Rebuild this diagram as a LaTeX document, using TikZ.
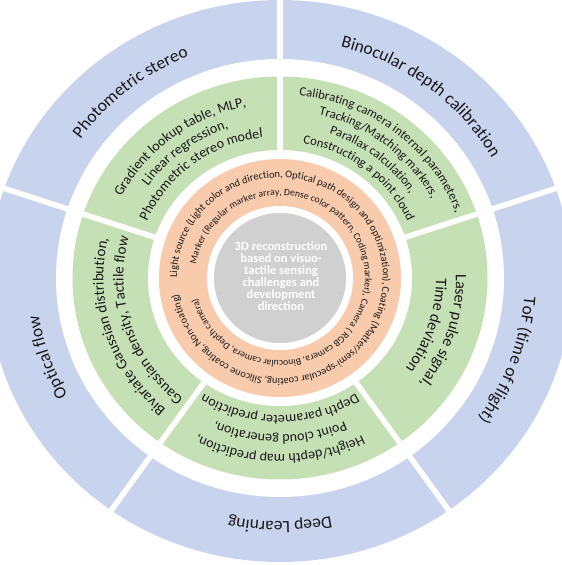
\documentclass[tikz,border=0pt]{standalone}
\usepackage{fontspec}
\setmainfont{Carlito}
\usetikzlibrary{decorations.text}
\definecolor{ringblue}{RGB}{200,212,238}
\definecolor{ringgreen}{RGB}{197,224,180}
\definecolor{ringorange}{RGB}{248,203,173}
\definecolor{ringgray}{RGB}{208,208,208}
\definecolor{txtc}{RGB}{25,25,25}
% radius of baseline, centre angle, half span, font size, text
\newcommand{\arctxt}[5]{%
  \pgfmathsetmacro{\atrx}{#1}\pgfmathsetmacro{\atry}{0.975*#1}%
  \pgfmathsetmacro{\atsa}{#2+#3}\pgfmathsetmacro{\atea}{#2-#3}%
  \path[decorate,decoration={text along path,text align=center,text color=txtc,
      text={|\fontsize{#4pt}{#4pt}\selectfont|#5}}]
    (\atsa:\atrx pt and \atry pt) arc[start angle=\atsa,end angle=\atea,x radius=\atrx pt,y radius=\atry pt];}
\begin{document}
\begin{tikzpicture}[x=1pt,y=1pt]
\useasboundingbox (-280pt,-287pt) rectangle (282pt,278pt);
\clip (-280pt,-287pt) rectangle (282pt,278pt);
% rings
\fill[ringblue] (0pt,-3pt) ellipse [x radius=292pt, y radius=281pt];
\fill[white] (0,0) ellipse [x radius=224pt, y radius=219pt];
\fill[ringgreen] (0,0) ellipse [x radius=207.5pt, y radius=201.5pt];
\fill[white] (0,0) ellipse [x radius=132pt, y radius=128pt];
\fill[ringorange] (0,0) ellipse [x radius=121pt, y radius=119pt];
\fill[white] (0,0) ellipse [x radius=73pt, y radius=72pt];
\fill[ringgray] (0,0) ellipse [x radius=66pt, y radius=65pt];
% radial gaps
\foreach \a in {18,90,162,234,306}
  \draw[white, line width=5.5pt] (\a:125pt) -- (\a:310pt);
% outer ring labels
\arctxt{245}{128.5}{50}{17.5}{Photometric stereo}
\arctxt{245}{52.5}{60}{17.5}{Binocular depth calibration}
\arctxt{245}{-20}{50}{17.5}{ToF (time of flight)}
\arctxt{250}{-90}{50}{17.5}{Deep Learning}
\arctxt{244}{199}{50}{17.5}{Optical flow}
% green ring: photometric
\arctxt{179}{127}{70}{14}{Gradient lookup table,  MLP,}
\arctxt{162}{127}{70}{14}{Linear regression,}
\arctxt{145}{127}{70}{14}{Photometric stereo model}
% green ring: binocular
\arctxt{188}{52}{75}{12.7}{Calibrating camera internal parameters,}
\arctxt{172}{52}{75}{12.7}{Tracking/Matching markers,}
\arctxt{156}{52}{75}{12.7}{Parallax calculation,}
\arctxt{140}{52}{75}{12.7}{Constructing a point cloud}
% green ring: ToF
\arctxt{176}{-18}{60}{16}{Laser pulse signal,}
\arctxt{156}{-18}{60}{16}{Time deviation}
% green ring: deep learning
\arctxt{181}{-90}{70}{14}{Height/depth map prediction,}
\arctxt{161}{-90}{70}{14}{Point cloud generation,}
\arctxt{141}{-90}{70}{14}{Depth parameter prediction}
% green ring: optical flow
\arctxt{176.5}{198}{70}{15}{Bivariate Gaussian distribution,}
\arctxt{156.5}{198}{70}{15}{Gaussian density, Tactile flow}
% orange ring
\arctxt{103}{4.5}{179.5}{10.4}{Light source (Light color and direction, Optical path design and optimization), Coating (Matter/semi-specular coating, Silicone coating, Non-coating)}
\arctxt{85}{2.3}{179.5}{9.7}{Marker (Regular marker array, Dense color pattern, Coding marker), Camera ( RGB camera, Binocular camera, Depth camera)}
% centre
\node[align=center, text=white, font=\bfseries\fontsize{12.5pt}{12pt}\selectfont] (core) at (1pt,2pt)
  {3D reconstruction\\based on visuo-\\tactile sensing\\challenges and\\development\\direction};
\end{tikzpicture}
\end{document}
